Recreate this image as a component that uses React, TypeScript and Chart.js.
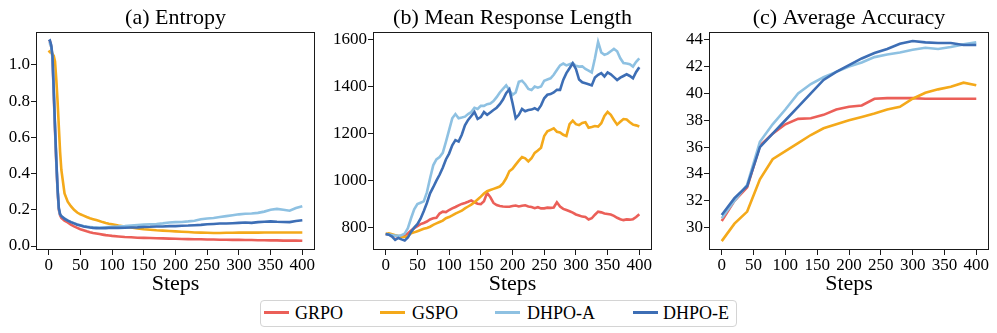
import React, { useEffect, useRef } from "react";
import { Chart, registerables } from "chart.js";

Chart.register(...registerables);

// ---------- Data ----------
const seriesNames = ["GRPO", "GSPO", "DHPO-A", "DHPO-E"];
const seriesColors = ["#EB5F58", "#F4A91A", "#8EC1E2", "#3D6EB5"];

const xTicks = [0, 50, 100, 150, 200, 250, 300, 350, 400];

// (a) Entropy
const stepsA = [
  0, 2, 4, 6, 8, 10, 12, 14, 16, 18, 20,
  25, 30, 35, 40, 45, 50, 55, 60, 65, 70, 75, 80, 85, 90, 95, 100,
  110, 120, 130, 140, 150, 160, 170, 180, 190, 200, 210, 220, 230, 240, 250,
  260, 270, 280, 290, 300, 310, 320, 330, 340, 350, 360, 370, 380, 390, 400,
];
const entropyGRPO = [
  1.13, 1.13, 1.10, 1.04, 0.84, 0.64, 0.46, 0.31, 0.20, 0.17, 0.155,
  0.14, 0.13, 0.118, 0.108, 0.10, 0.093, 0.087, 0.081, 0.076, 0.072, 0.069, 0.066, 0.063, 0.06, 0.058, 0.056,
  0.053, 0.05, 0.048, 0.046, 0.045, 0.044, 0.043, 0.042, 0.041, 0.04, 0.039, 0.038, 0.037, 0.037, 0.036,
  0.036, 0.035, 0.035, 0.034, 0.034, 0.033, 0.033, 0.032, 0.032, 0.031, 0.031, 0.03, 0.03, 0.03, 0.029,
];
const entropyGSPO = [
  1.08, 1.07, 1.07, 1.06, 1.05, 1.02, 0.92, 0.80, 0.66, 0.52, 0.42,
  0.29, 0.245, 0.22, 0.20, 0.185, 0.175, 0.168, 0.16, 0.153, 0.148, 0.143, 0.138, 0.132, 0.127, 0.123, 0.12,
  0.113, 0.107, 0.102, 0.097, 0.093, 0.09, 0.087, 0.085, 0.083, 0.081, 0.079, 0.077, 0.075, 0.074, 0.073,
  0.072, 0.072, 0.073, 0.073, 0.074, 0.074, 0.074, 0.074, 0.075, 0.075, 0.075, 0.075, 0.075, 0.075, 0.075,
];
const entropyDHPOA = [
  1.12, 1.12, 1.10, 1.04, 0.85, 0.65, 0.47, 0.31, 0.205, 0.175, 0.165,
  0.152, 0.142, 0.133, 0.126, 0.12, 0.115, 0.11, 0.107, 0.105, 0.103, 0.102, 0.102, 0.103, 0.104, 0.105, 0.106,
  0.108, 0.11, 0.113, 0.116, 0.118, 0.12, 0.122, 0.125, 0.13, 0.132, 0.133, 0.136, 0.14, 0.148, 0.152,
  0.155, 0.16, 0.165, 0.17, 0.175, 0.178, 0.18, 0.183, 0.19, 0.2, 0.205, 0.2, 0.195, 0.21, 0.22,
];
const entropyDHPOE = [
  1.13, 1.135, 1.11, 1.05, 0.86, 0.66, 0.48, 0.32, 0.21, 0.175, 0.165,
  0.15, 0.14, 0.132, 0.125, 0.118, 0.113, 0.108, 0.105, 0.102, 0.1, 0.099, 0.098, 0.098, 0.099, 0.1, 0.1,
  0.1, 0.101, 0.102, 0.103, 0.105, 0.106, 0.108, 0.108, 0.11, 0.11, 0.112, 0.113, 0.115, 0.117, 0.12,
  0.122, 0.124, 0.124, 0.126, 0.128, 0.13, 0.128, 0.132, 0.134, 0.136, 0.134, 0.133, 0.132, 0.138, 0.142,
];
const entropyTicks = [0, 0.2, 0.4, 0.6, 0.8, 1.0];

// (b) Mean Response Length (every 5 steps)
const stepsB = [
  0, 5, 10, 15, 20, 25, 30, 35, 40, 45,
  50, 55, 60, 65, 70, 75, 80, 85, 90, 95,
  100, 105, 110, 115, 120, 125, 130, 135, 140, 145,
  150, 155, 160, 165, 170, 175, 180, 185, 190, 195,
  200, 205, 210, 215, 220, 225, 230, 235, 240, 245,
  250, 255, 260, 265, 270, 275, 280, 285, 290, 295,
  300, 305, 310, 315, 320, 325, 330, 335, 340, 345,
  350, 355, 360, 365, 370, 375, 380, 385, 390, 395,
  400,
];
const lengthGRPO = [
  773, 770, 768, 765, 762, 765, 768, 775, 788, 798,
  806, 815, 820, 826, 835, 840, 842, 860, 868, 866,
  875, 882, 888, 895, 901, 905, 910, 916, 908, 902,
  900, 912, 948, 930, 905, 896, 892, 890, 889, 889,
  892, 894, 890, 893, 895, 890, 888, 883, 887, 882,
  882, 885, 884, 886, 908, 890, 880, 875, 870, 864,
  856, 852, 847, 845, 835, 840, 855, 868, 865, 860,
  858, 856, 850, 842, 836, 832, 835, 834, 836, 845,
  857,
];
const lengthGSPO = [
  773, 776, 772, 768, 765, 760, 760, 764, 776, 780,
  785, 790, 795, 799, 804, 812, 818, 824, 830, 840,
  845, 852, 860, 866, 872, 882, 890, 898, 908, 920,
  932, 945, 955, 960, 965, 970, 975, 988, 1010, 1040,
  1050, 1068, 1085, 1100, 1095, 1082, 1095, 1118, 1128, 1140,
  1190, 1210, 1216, 1222, 1208, 1205, 1195, 1190, 1240, 1255,
  1240, 1236, 1245, 1248, 1225, 1228, 1232, 1230, 1244, 1275,
  1292, 1280, 1258, 1238, 1250, 1262, 1260, 1248, 1238, 1235,
  1230,
];
const lengthDHPOA = [
  773, 771, 769, 766, 765, 768, 775, 798, 840, 878,
  900, 906, 912, 950, 1010, 1065, 1090, 1100, 1118, 1165,
  1215, 1265, 1283, 1265, 1268, 1272, 1283, 1292, 1310, 1305,
  1318, 1318, 1325, 1328, 1338, 1355, 1375, 1390, 1405, 1385,
  1365, 1375, 1420, 1425, 1410, 1390, 1385, 1400, 1395, 1400,
  1425, 1430, 1435, 1450, 1470, 1490, 1498, 1490, 1495, 1500,
  1488, 1485, 1486, 1475, 1468, 1460, 1520, 1590, 1545, 1535,
  1540, 1550, 1560, 1550, 1520, 1500, 1498, 1495, 1485, 1505,
  1520,
];
const lengthDHPOE = [
  773, 770, 762, 748, 756, 750, 745, 758, 782, 800,
  815, 838, 870, 905, 946, 972, 1000, 1025, 1055, 1090,
  1115, 1150, 1172, 1166, 1195, 1235, 1258, 1275, 1292, 1262,
  1270, 1292, 1280, 1290, 1300, 1310, 1325, 1345, 1372, 1388,
  1330, 1265, 1280, 1305, 1295, 1300, 1302, 1308, 1300, 1320,
  1350, 1365, 1368, 1375, 1386, 1386, 1428, 1457, 1478, 1499,
  1475, 1430, 1418, 1414, 1410, 1405, 1438, 1450, 1457, 1443,
  1460, 1452, 1440, 1428, 1438, 1445, 1452, 1445, 1435, 1462,
  1482,
];
const lengthTicks = [800, 1000, 1200, 1400, 1600];

// (c) Average Accuracy (every 20 steps)
const stepsC = [0, 20, 40, 60, 80, 100, 120, 140, 160, 180, 200, 220, 240, 260, 280, 300, 320, 340, 360, 380, 400];
const accGRPO = [30.5, 32.0, 33.0, 36.1, 37.0, 37.7, 38.1, 38.15, 38.4, 38.8, 39.0, 39.1, 39.6, 39.65, 39.65, 39.65, 39.6, 39.6, 39.6, 39.6, 39.6];
const accGSPO = [29.0, 30.3, 31.2, 33.6, 35.1, 35.7, 36.3, 36.9, 37.4, 37.7, 38.0, 38.25, 38.5, 38.8, 39.0, 39.6, 40.05, 40.3, 40.5, 40.8, 40.6];
const accDHPOA = [30.7, 32.0, 33.2, 36.4, 37.7, 38.8, 40.0, 40.7, 41.2, 41.6, 42.0, 42.3, 42.7, 42.9, 43.05, 43.25, 43.4, 43.3, 43.45, 43.65, 43.8];
const accDHPOE = [30.95, 32.2, 33.1, 36.0, 37.0, 38.0, 39.0, 40.0, 41.0, 41.6, 42.1, 42.6, 43.0, 43.3, 43.7, 43.9, 43.8, 43.75, 43.75, 43.6, 43.6];
const accTicks = [30, 32, 34, 36, 38, 40, 42, 44];

// ---------- Chart helpers ----------
const FONT = "'Liberation Serif', 'Times New Roman', serif";

const framePlugin = {
  id: "frame",
  afterDatasetsDraw(chart: any) {
    const { ctx, chartArea } = chart;
    ctx.save();
    ctx.strokeStyle = "#1a1a1a";
    ctx.lineWidth = 1;
    ctx.strokeRect(
      Math.round(chartArea.left) + 0.5,
      Math.round(chartArea.top) + 0.5,
      Math.round(chartArea.right - chartArea.left) - 1,
      Math.round(chartArea.bottom - chartArea.top) - 1
    );
    ctx.restore();
  },
};

// Title centred over the plotting area (like matplotlib axes titles)
const panelTitlePlugin = {
  id: "panelTitle",
  afterDraw(chart: any, _args: any, opts: any) {
    const { ctx, chartArea } = chart;
    ctx.save();
    ctx.fillStyle = "#000";
    ctx.font = `22px ${FONT}`;
    ctx.textAlign = "center";
    ctx.textBaseline = "middle";
    ctx.fillText(opts.text, (chartArea.left + chartArea.right) / 2, opts.y);
    ctx.restore();
  },
};

function buildConfig(
  title: string,
  steps: number[],
  series: number[][],
  yMin: number,
  yMax: number,
  yTicks: number[],
  yFmt: (v: number) => string,
  yWidth: number,
  padRight: number
): any {
  const datasets = series.map((vals, i) => ({
    label: seriesNames[i],
    data: steps.map((s, j) => ({ x: s, y: vals[j] })),
    borderColor: seriesColors[i],
    backgroundColor: seriesColors[i],
    borderWidth: 2.6,
    pointRadius: 0,
    tension: 0,
    fill: false,
    order: 4 - i,
  }));
  const tickGrid = {
    display: true,
    drawOnChartArea: false,
    drawTicks: true,
    tickLength: 5,
    color: "#1a1a1a",
    lineWidth: 1,
  };
  return {
    type: "line",
    data: { datasets },
    plugins: [framePlugin, panelTitlePlugin],
    options: {
      responsive: false,
      animation: false,
      devicePixelRatio: 1,
      layout: { padding: { left: 0, right: padRight, top: 32, bottom: 0 } },
      plugins: {
        legend: { display: false },
        tooltip: { enabled: false },
        title: { display: false },
        panelTitle: { text: title, y: 18 },
      },
      scales: {
        x: {
          type: "linear",
          min: -20,
          max: 420,
          afterBuildTicks: (s: any) => {
            s.ticks = xTicks.map((v) => ({ value: v }));
          },
          afterFit: (s: any) => {
            s.height = 50;
          },
          grid: tickGrid,
          border: { display: false },
          ticks: {
            color: "#000",
            font: { family: FONT, size: 17 },
            maxRotation: 0,
            minRotation: 0,
            autoSkip: false,
            padding: 0,
            callback: (v: any) => String(v),
          },
          title: {
            display: true,
            text: "Steps",
            color: "#000",
            font: { family: FONT, size: 22, lineHeight: 1.2 },
            padding: { top: 0, bottom: 3 },
          },
        },
        y: {
          type: "linear",
          min: yMin,
          max: yMax,
          afterBuildTicks: (s: any) => {
            s.ticks = yTicks.map((v) => ({ value: v }));
          },
          afterFit: (s: any) => {
            s.width = yWidth;
          },
          grid: tickGrid,
          border: { display: false },
          ticks: {
            color: "#000",
            font: { family: FONT, size: 17 },
            padding: 1,
            autoSkip: false,
            callback: (v: any) => yFmt(Number(v)),
          },
        },
      },
    },
  };
}

function Panel(props: { left: number; width: number; config: any }) {
  const ref = useRef<HTMLCanvasElement | null>(null);
  useEffect(() => {
    if (!ref.current) return;
    const chart = new Chart(ref.current, props.config);
    return () => chart.destroy();
  }, []);
  return (
    <canvas
      ref={ref}
      width={props.width}
      height={300}
      style={{ position: "absolute", left: props.left, top: 0, width: props.width, height: 300 }}
    />
  );
}

const legendItems = [
  { line: 264, text: 295 },
  { line: 380, text: 412 },
  { line: 495, text: 527 },
  { line: 633, text: 663 },
];

export default function App() {
  const cfgA = buildConfig(
    "(a) Entropy",
    stepsA,
    [entropyGRPO, entropyGSPO, entropyDHPOA, entropyDHPOE],
    -0.022,
    1.182,
    entropyTicks,
    (v) => v.toFixed(1),
    36,
    15
  );
  const cfgB = buildConfig(
    "(b) Mean Response Length",
    stepsB,
    [lengthGRPO, lengthGSPO, lengthDHPOA, lengthDHPOE],
    705,
    1632,
    lengthTicks,
    (v) => String(Math.round(v)),
    43,
    10
  );
  const cfgC = buildConfig(
    "(c) Average Accuracy",
    stepsC,
    [accGRPO, accGSPO, accDHPOA, accDHPOE],
    28.34,
    44.57,
    accTicks,
    (v) => String(Math.round(v)),
    47,
    8
  );
  return (
    <div style={{ position: "absolute", left: 0, top: 0, width: 997, height: 333, background: "#fff", overflow: "hidden" }}>
      <Panel left={0} width={330} config={cfgA} />
      <Panel left={330} width={332} config={cfgB} />
      <Panel left={662} width={335} config={cfgC} />
      <div
        style={{
          position: "absolute",
          left: 260,
          top: 300,
          width: 477,
          height: 27,
          boxSizing: "border-box",
          border: "1px solid #d4d4d4",
          borderRadius: 4,
          background: "#fff",
        }}
      />
      {seriesNames.map((name, i) => (
        <React.Fragment key={name}>
          <div
            style={{
              position: "absolute",
              left: legendItems[i].line,
              top: 311,
              width: 25,
              height: 3,
              background: seriesColors[i],
            }}
          />
          <div
            style={{
              position: "absolute",
              left: legendItems[i].text,
              top: 304,
              fontFamily: FONT,
              fontSize: 18,
              lineHeight: "18px",
              color: "#000",
              whiteSpace: "nowrap",
            }}
          >
            {name}
          </div>
        </React.Fragment>
      ))}
    </div>
  );
}
